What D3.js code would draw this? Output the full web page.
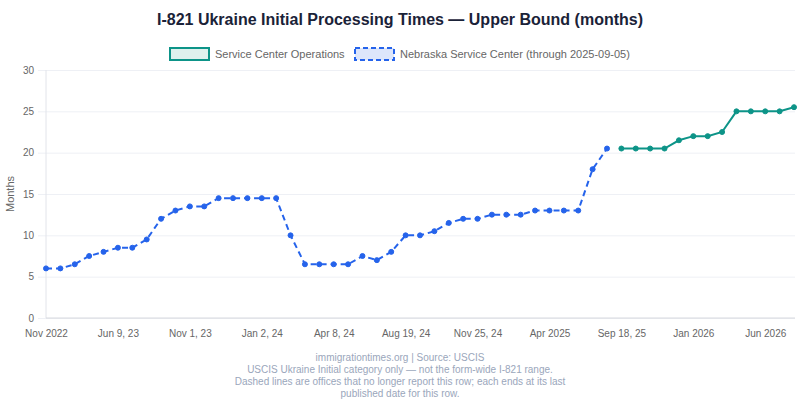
<!DOCTYPE html>
<html>
<head>
<meta charset="utf-8">
<script src="https://cdn.jsdelivr.net/npm/d3@7"></script>
<style>
  body { margin: 0; background: #fff; }
  svg { font-family: "Liberation Sans", Arial, sans-serif; }
  .grid line { stroke: #eef0f5; }
  .tick text { fill: #666; font-size: 10px; }
</style>
</head>
<body>
<svg id="chart" width="800" height="400"></svg>
<script>
// Nebraska Service Center (indices 0-39), Service Center Operations (indices 40-52)
const nebraska = [6, 6, 6.5, 7.5, 8, 8.5, 8.5, 9.5, 12, 13, 13.5, 13.5, 14.5, 14.5, 14.5, 14.5, 14.5,
  10, 6.5, 6.5, 6.5, 6.5, 7.5, 7, 8, 10, 10, 10.5, 11.5, 12, 12, 12.5, 12.5, 12.5, 13, 13, 13, 13, 18, 20.5];
const operations = [20.5, 20.5, 20.5, 20.5, 21.5, 22, 22, 22.5, 25, 25, 25, 25, 25.5];
const operationsStart = 40;
const pointCount = 53;

// label shown every 5th point
const tickIndex = [0, 5, 10, 15, 20, 25, 30, 35, 40, 45, 50];
const tickLabels = ['Nov 2022', 'Jun 9, 23', 'Nov 1, 23', 'Jan 2, 24', 'Apr 8, 24', 'Aug 19, 24',
  'Nov 25, 24', 'Apr 2025', 'Sep 18, 25', 'Jan 2026', 'Jun 2026'];
const yTicks = [0, 5, 10, 15, 20, 25, 30];

const footer = [
  'immigrationtimes.org | Source: USCIS',
  'USCIS Ukraine Initial category only \u2014 not the form-wide I-821 range.',
  'Dashed lines are offices that no longer report this row; each ends at its last',
  'published date for this row.'
];

const blue = '#2563eb';
const teal = '#0d9488';

const svg = d3.select('#chart');
const plot = { left: 46, right: 795, top: 70, bottom: 318 };

const x = d3.scaleLinear().domain([0, pointCount - 1]).range([plot.left, plot.right - 1]);
const y = d3.scaleLinear().domain([0, 30]).range([plot.bottom, plot.top]);

svg.append('text')
  .attr('x', 400).attr('y', 25)
  .attr('text-anchor', 'middle')
  .attr('font-size', 16).attr('font-weight', 'bold')
  .attr('fill', '#1a2238')
  .text('I-821 Ukraine Initial Processing Times \u2014 Upper Bound (months)');

// legend
const legend = svg.append('g').attr('font-size', 11);
legend.append('rect').attr('x', 170).attr('y', 48).attr('width', 39).attr('height', 12)
  .attr('fill', '#dff1ee').attr('stroke', teal).attr('stroke-width', 2);
legend.append('text').attr('x', 215).attr('y', 58).attr('fill', '#666').text('Service Center Operations');
legend.append('rect').attr('x', 355).attr('y', 48).attr('width', 39).attr('height', 12)
  .attr('fill', '#dde6fb').attr('stroke', blue).attr('stroke-width', 2).attr('stroke-dasharray', '5,3');
legend.append('text').attr('x', 400).attr('y', 58).attr('fill', '#666').text('Nebraska Service Center (through 2025-09-05)');

// y axis with grid
const yAxis = svg.append('g')
  .attr('class', 'grid')
  .attr('transform', `translate(${plot.left},0)`)
  .call(d3.axisLeft(y).tickValues(yTicks).tickSize(8).tickPadding(4));
yAxis.select('.domain').remove();
yAxis.selectAll('.tick line').attr('x2', plot.right - plot.left).attr('x1', -8);
yAxis.selectAll('.tick text').attr('dy', '0.32em');

svg.append('line')
  .attr('x1', plot.left).attr('x2', plot.left)
  .attr('y1', plot.top).attr('y2', plot.bottom)
  .attr('stroke', '#e2e4ea');
svg.append('line')
  .attr('x1', plot.left).attr('x2', plot.right)
  .attr('y1', plot.bottom).attr('y2', plot.bottom)
  .attr('stroke', '#d6d8de');

// x axis labels
const xAxis = svg.append('g')
  .attr('transform', `translate(0,${plot.bottom})`)
  .call(d3.axisBottom(x).tickValues(tickIndex).tickSize(0).tickPadding(12)
    .tickFormat((d, i) => tickLabels[i]));
xAxis.select('.domain').remove();

svg.append('text')
  .attr('transform', `translate(14,${(plot.top + plot.bottom) / 2}) rotate(-90)`)
  .attr('text-anchor', 'middle')
  .attr('font-size', 11).attr('fill', '#666')
  .text('Months');

// series
const line = d3.line().x((d) => x(d.i)).y((d) => y(d.v));
const nebraskaPts = nebraska.map((v, i) => ({ i, v }));
const operationsPts = operations.map((v, i) => ({ i: i + operationsStart, v }));

svg.append('path').datum(nebraskaPts)
  .attr('d', line).attr('fill', 'none')
  .attr('stroke', blue).attr('stroke-width', 2).attr('stroke-dasharray', '6,4');
svg.append('path').datum(operationsPts)
  .attr('d', line).attr('fill', 'none')
  .attr('stroke', teal).attr('stroke-width', 2);

svg.selectAll('.pt-neb').data(nebraskaPts).join('circle')
  .attr('class', 'pt-neb')
  .attr('cx', (d) => x(d.i)).attr('cy', (d) => y(d.v)).attr('r', 2.5)
  .attr('fill', blue).attr('stroke', blue).attr('stroke-width', 1);
svg.selectAll('.pt-ops').data(operationsPts).join('circle')
  .attr('class', 'pt-ops')
  .attr('cx', (d) => x(d.i)).attr('cy', (d) => y(d.v)).attr('r', 2.5)
  .attr('fill', teal).attr('stroke', teal).attr('stroke-width', 1);

// footer notes
svg.append('g').selectAll('text').data(footer).join('text')
  .attr('x', 400).attr('y', (d, i) => 361 + i * 12)
  .attr('text-anchor', 'middle')
  .attr('font-size', 10).attr('fill', '#9aa6bb')
  .text((d) => d);
</script>
</body>
</html>
